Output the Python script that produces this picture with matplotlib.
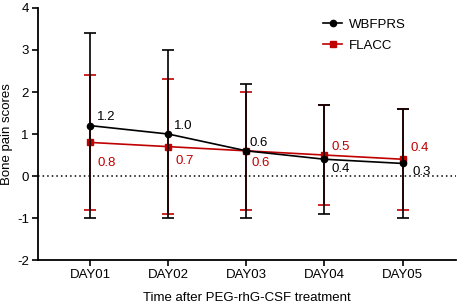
import matplotlib
matplotlib.use("Agg")
import matplotlib.pyplot as plt
from matplotlib.lines import Line2D
import numpy as np

plt.rcParams['font.family'] = ['Liberation Sans', 'DejaVu Sans']
plt.rcParams['axes.unicode_minus'] = False

days = ["DAY01", "DAY02", "DAY03", "DAY04", "DAY05"]
wbfprs_mean = [1.2, 1.0, 0.6, 0.4, 0.3]
wbfprs_sd = [2.2, 2.0, 1.6, 1.3, 1.3]
flacc_mean = [0.8, 0.7, 0.6, 0.5, 0.4]
flacc_sd = [1.6, 1.6, 1.4, 1.2, 1.2]
wbfprs_labels = ["1.2", "1.0", "0.6", "0.4", "0.3"]
flacc_labels = ["0.8", "0.7", "0.6", "0.5", "0.4"]

RED = "#c00000"
FS = 9.5
fig = plt.figure(figsize=(4.57, 3.06), dpi=100)
ax = fig.add_axes([0.083, 0.150, 0.914, 0.824])
x = np.arange(len(days))

ax.axhline(0, color="black", linestyle=(0, (1, 2)), linewidth=1.1, zorder=1)

ax.errorbar(x, flacc_mean, yerr=flacc_sd, color=RED, marker="s", markersize=4.5,
            linewidth=1.2, elinewidth=1.2, capsize=4.5, capthick=1.2, zorder=2)
ax.errorbar(x, wbfprs_mean, yerr=wbfprs_sd, color="black", marker="o", markersize=4.5,
            linewidth=1.2, elinewidth=1.2, capsize=4.5, capthick=1.2, zorder=3)

w_off = [(5, 6), (4, 6), (2, 6), (5, -7), (7, -6)]
f_off = [(5, -15), (5, -10), (4, -9), (5, 6), (6, 8)]
for i in range(len(days)):
    ax.annotate(wbfprs_labels[i], (x[i], wbfprs_mean[i]), xytext=w_off[i], textcoords="offset points",
                fontsize=FS, color="black", va="center", ha="left")
    ax.annotate(flacc_labels[i], (x[i], flacc_mean[i]), xytext=f_off[i], textcoords="offset points",
                fontsize=FS, color=RED, va="center", ha="left")

ax.set_xlim(-0.67, 4.68)
ax.set_ylim(-2, 4)
ax.set_xticks(x)
ax.set_xticklabels(days)
ax.set_yticks(range(-2, 5))
ax.tick_params(labelsize=FS, width=1.2, length=4, direction="out", pad=2.5)
for s in ["top", "right"]:
    ax.spines[s].set_visible(False)
for s in ["left", "bottom"]:
    ax.spines[s].set_linewidth(1.3)
ax.set_ylabel("Bone pain scores", fontsize=FS, labelpad=3)
ax.set_xlabel("Time after PEG-rhG-CSF treatment", fontsize=FS, labelpad=8)

handles = [Line2D([], [], color="black", marker="o", markersize=4.5, linewidth=1.2),
           Line2D([], [], color=RED, marker="s", markersize=4.5, linewidth=1.2)]
ax.legend(handles, ["WBFPRS", "FLACC"], loc="upper left", bbox_to_anchor=(0.655, 1.005), frameon=False,
          fontsize=FS, handlelength=1.4, handletextpad=0.5, labelspacing=0.65)

fig.savefig("out.png", dpi=100)
